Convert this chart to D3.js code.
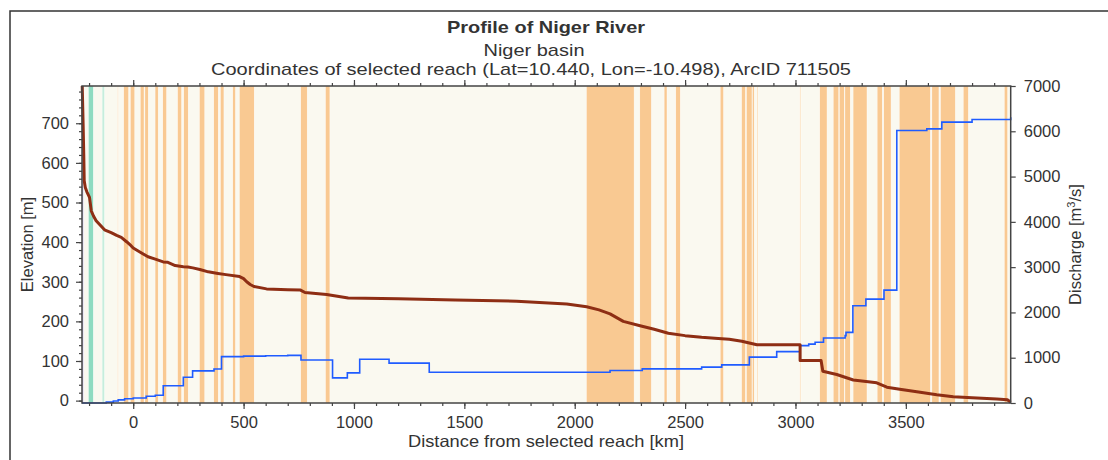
<!DOCTYPE html>
<html><head><meta charset="utf-8">
<script src="https://cdn.jsdelivr.net/npm/d3@7"></script>
<style>
html,body{margin:0;padding:0;background:#fff;}
text{font-family:"Liberation Sans",Arial,sans-serif;fill:#333;}
</style></head>
<body><svg id="c" width="1108" height="460"></svg>
<script>
// ---- data ----
const titleText = "Profile of Niger River";
const subtitle1 = "Niger basin";
const subtitle2 = "Coordinates of selected reach (Lat=10.440, Lon=-10.498), ArcID 711505";
const xLabel = "Distance from selected reach [km]";
const yLeftLabel = "Elevation [m]";

const distTicks = [0, 500, 1000, 1500, 2000, 2500, 3000, 3500];
const elevTicks = [0, 100, 200, 300, 400, 500, 600, 700];
const dischTicks = [0, 1000, 2000, 3000, 4000, 5000, 6000, 7000];

// background bands along the river (km start, km end, class)
const bandStart = [-232,-203,-141,-72,-43,-13,32,53,99,134,201,229,300,365,395,451,481,759,871,2053,2295,2405,2458,2659,2756,2778,2805,2825,3019,3110,3171,3199,3224,3261,3370,3400,3470,3618,3657,3760,3946];
const bandEnd   = [-225,-181,-130,-67,-21,7,49,68,113,151,219,249,324,385,411,463,548,788,891,2269,2347,2418,2478,2674,2773,2803,2813,2831,3025,3143,3196,3221,3248,3324,3393,3433,3611,3650,3724,3783,3961];
const bandType  = ["v","t","lt","p","o","o","o","o","o","o","o","o","o","o","o","o","o","o","o","o","o","o","o","o","o","o","o","p","p","o","o","o","o","o","o","o","o","o","o","o","o"];

// elevation profile
const elevKm = [-231,-227,-224,-222,-217,-210,-198,-190,-180,-168,-150,-130,-100,-75,-54,-30,-10,0,30,67,100,136,157,190,227,248,270,302,340,384,420,482,500,514,530,547,604,700,758,778,876,974,1201,1458,1737,1964,2054,2110,2160,2220,2296,2360,2424,2500,2575,2650,2700,2757,2825,3021,3021,3116,3124,3187,3262,3368,3414,3480,3565,3640,3715,3800,3912,3960,3975];
const elevM  = [794,700,620,555,538,527,513,479,466,454,443,431,424,417,412,401,391,385,375,363,357,350,349,341,338,337,335,331,325,321,318,313,308,300,293,288,282,280,279,273,268,259,257,254,251,244,237,229,219,200,189,180,170,164,160,157,155,150,141,141,101,101,74,66,52,45,34,28,21,15,10,7,4,2,-4];

// discharge (step)
const qKm  = [-232,-122,-90,-68,-39,0,59,100,136,227,269,366,400,500,600,700,760,903,970,1026,1159,1341,2160,2306,2575,2666,2791,2915,3021,3060,3089,3127,3225,3229,3260,3319,3401,3459,3595,3663,3800,3975];
const qVal = [0,20,45,70,95,110,150,170,380,570,710,750,1025,1035,1045,1052,950,555,665,965,880,680,717,754,792,842,1012,1135,1267,1300,1342,1436,1487,1560,2147,2294,2492,6017,6054,6202,6260,6312];

// ---- layout ----
const svg = d3.select("#c");
const L = 82, R = 1010.7, T = 86, B = 403;
const x = d3.scaleLinear().domain([-232, 3975]).range([L, R]);
const yE = d3.scaleLinear().domain([-6, 794]).range([B, T]);
const yQ = d3.scaleLinear().domain([0, 7000]).range([B, T]);

const bandColor = {o:"#f9c992", p:"#fce3c4", t:"#8fdbc1", lt:"#c6eddc", v:"#c9c2ec"};

// outer frame
svg.append("path").attr("d", "M10,470 L10,11 L1120,11").attr("fill","none").attr("stroke","#333").attr("stroke-width",1.5);

// plot background
svg.append("rect").attr("x",L).attr("y",T).attr("width",R-L).attr("height",B-T).attr("fill","#faf9f0");

const bands = bandStart.map((s,i)=>({s, e:bandEnd[i], t:bandType[i]}));
svg.append("g").selectAll("rect").data(bands).join("rect")
  .attr("x", d=>x(d.s)).attr("y", T)
  .attr("width", d=>Math.max(1, x(d.e)-x(d.s))).attr("height", B-T)
  .attr("fill", d=>bandColor[d.t])
  .attr("stroke","#fff").attr("stroke-width",0.4);

// lines
const qData = qKm.map((k,i)=>[k,qVal[i]]);
svg.append("path").datum(qData)
  .attr("d", d3.line().x(d=>x(d[0])).y(d=>yQ(d[1])).curve(d3.curveStepAfter))
  .attr("fill","none").attr("stroke","#1f5cff").attr("stroke-width",1.6);

const eData = elevKm.map((k,i)=>[k,elevM[i]]);
svg.append("path").datum(eData)
  .attr("d", d3.line().x(d=>x(d[0])).y(d=>yE(d[1])))
  .attr("fill","none").attr("stroke","#8e2e14").attr("stroke-width",3).attr("stroke-linejoin","round");

// frame around plot
svg.append("rect").attr("x",L).attr("y",T).attr("width",R-L).attr("height",B-T)
  .attr("fill","none").attr("stroke","#444").attr("stroke-width",1.5);

function styleAxis(g){
  g.select(".domain").remove();
  g.selectAll(".tick line").attr("stroke","#444").attr("stroke-width",1.2);
  g.selectAll(".tick text").style("font-size","16.5px").attr("fill","#333");
}

// bottom axis
const minorX = d3.range(-200, 3901, 100);
svg.append("g").attr("transform",`translate(0,${B})`)
  .call(d3.axisBottom(x).tickValues(minorX).tickSize(3).tickFormat(""))
  .call(styleAxis);
svg.append("g").attr("transform",`translate(0,${B})`)
  .call(d3.axisBottom(x).tickValues(distTicks).tickSize(6).tickPadding(7).tickFormat(d3.format("d")))
  .call(styleAxis);
// top mirrored ticks
svg.append("g").attr("transform",`translate(0,${T})`)
  .call(d3.axisTop(x).tickValues(minorX).tickSize(3).tickFormat(""))
  .call(styleAxis);
svg.append("g").attr("transform",`translate(0,${T})`)
  .call(d3.axisTop(x).tickValues(distTicks).tickSize(6).tickFormat(""))
  .call(styleAxis);

// left axis
svg.append("g").attr("transform",`translate(${L},0)`)
  .call(d3.axisLeft(yE).tickValues(d3.range(0, 781, 20)).tickSize(3).tickFormat(""))
  .call(styleAxis);
svg.append("g").attr("transform",`translate(${L},0)`)
  .call(d3.axisLeft(yE).tickValues(elevTicks).tickSize(6).tickPadding(7).tickFormat(d3.format("d")))
  .call(styleAxis);

// right axis
svg.append("g").attr("transform",`translate(${R},0)`)
  .call(d3.axisRight(yQ).tickValues(dischTicks).tickSize(5).tickPadding(8).tickFormat(d3.format("d")))
  .call(styleAxis);

// titles
svg.append("text").attr("x",546).attr("y",33).attr("text-anchor","middle")
  .style("font-size","17px").style("font-weight","bold")
  .attr("textLength",198).attr("lengthAdjust","spacingAndGlyphs").text(titleText);
svg.append("text").attr("x",534).attr("y",56).attr("text-anchor","middle")
  .style("font-size","17px").attr("textLength",101).attr("lengthAdjust","spacingAndGlyphs").text(subtitle1);
svg.append("text").attr("x",531).attr("y",75).attr("text-anchor","middle")
  .style("font-size","17px").attr("textLength",640).attr("lengthAdjust","spacingAndGlyphs").text(subtitle2);

svg.append("text").attr("x",546).attr("y",447).attr("text-anchor","middle")
  .style("font-size","16.5px").attr("textLength",276).attr("lengthAdjust","spacingAndGlyphs").text(xLabel);

svg.append("text").attr("transform",`translate(33,${(T+B)/2}) rotate(-90)`).attr("text-anchor","middle")
  .style("font-size","16.5px").text(yLeftLabel);

const rl = svg.append("text").attr("transform",`translate(1081,${(T+B)/2}) rotate(-90)`).attr("text-anchor","middle")
  .style("font-size","16.5px");
rl.append("tspan").text("Discharge [m");
rl.append("tspan").attr("dy",-6).style("font-size","11px").text("3");
rl.append("tspan").attr("dy",6).text("/s]");
</script></body></html>
